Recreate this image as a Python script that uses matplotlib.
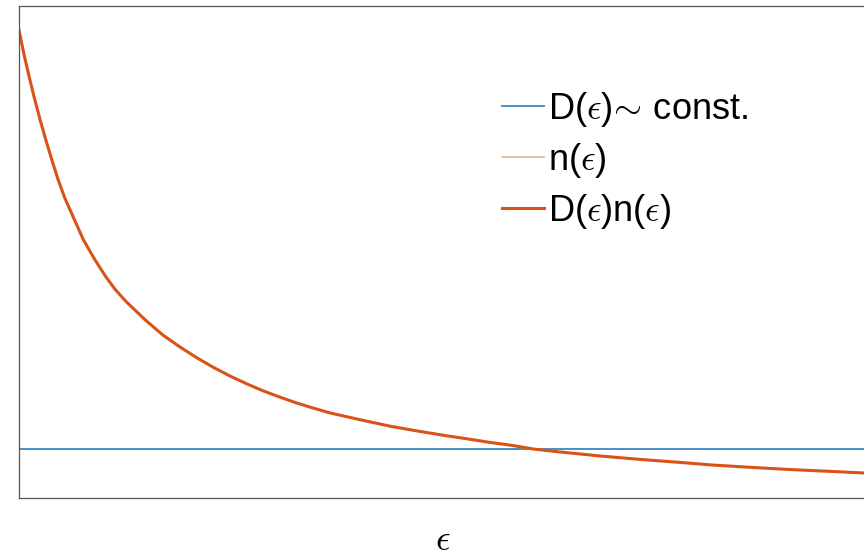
import matplotlib
matplotlib.use("Agg")
import matplotlib.pyplot as plt

plt.rcParams['font.family'] = ['Liberation Sans', 'DejaVu Sans']
plt.rcParams['mathtext.fontset'] = 'cm'

# energy axis (arbitrary units) and values
eps = [0.00, 0.06, 0.12, 0.18, 0.25, 0.32, 0.39, 0.46, 0.54, 0.63, 0.76,
       0.89, 1.02, 1.13, 1.26, 1.49, 1.70, 1.90, 2.10, 2.29, 2.49, 2.69,
       2.88, 3.08, 3.28, 3.47, 3.67, 4.03, 4.38, 4.71, 5.03, 5.30, 5.56,
       5.82, 6.07, 6.39, 6.86, 7.33, 7.80, 8.18, 8.63, 9.10, 9.58, 9.98]
Dn = [0.951, 0.901, 0.856, 0.814, 0.768, 0.726, 0.686, 0.648, 0.610, 0.575,
      0.525, 0.486, 0.451, 0.425, 0.400, 0.362, 0.331, 0.307, 0.285, 0.266,
      0.248, 0.232, 0.218, 0.205, 0.193, 0.183, 0.173, 0.159, 0.146, 0.136,
      0.127, 0.120, 0.113, 0.107, 0.0996, 0.0935, 0.0854, 0.0785, 0.0724,
      0.0671, 0.0624, 0.0579, 0.0541, 0.0508]
n_eps = Dn  # n(eps) coincides with D(eps)n(eps) for constant D
D_const = 0.1

labels = [r'D($\epsilon$)$\!\sim\!$ const.', r'n($\epsilon$)', r'D($\epsilon$)n($\epsilon$)']
colors = ['#4A8FC4', '#DDB592', '#D95319']

fig = plt.figure(figsize=(8.64, 5.58), dpi=100)
ax = fig.add_axes([19/864, 60/558, 847/864, 492/558])

x0, x1 = 0.0, 10.0
ax.plot([x0, x1], [D_const, D_const], color=colors[0], lw=1.4, label=labels[0])
ax.plot(eps, n_eps, color=colors[1], lw=1.2, label=labels[1])
ax.plot(eps, Dn, color=colors[2], lw=2.2, label=labels[2])

ax.set_xlim(x0, x1)
ax.set_ylim(0, 1)
ax.set_xticks([])
ax.set_yticks([])
for s in ax.spines.values():
    s.set_color('#555555')
    s.set_linewidth(0.9)

ax.set_xlabel(r'$\epsilon$', fontsize=26, labelpad=18)

fig.legend(loc='upper left', bbox_to_anchor=(502/864, 1 - 89.7/558),
           frameon=False, fontsize=26, borderpad=0, borderaxespad=0,
           handlelength=1.16, handletextpad=0.11, labelspacing=0.33)

fig.savefig('out.png', dpi=100)
